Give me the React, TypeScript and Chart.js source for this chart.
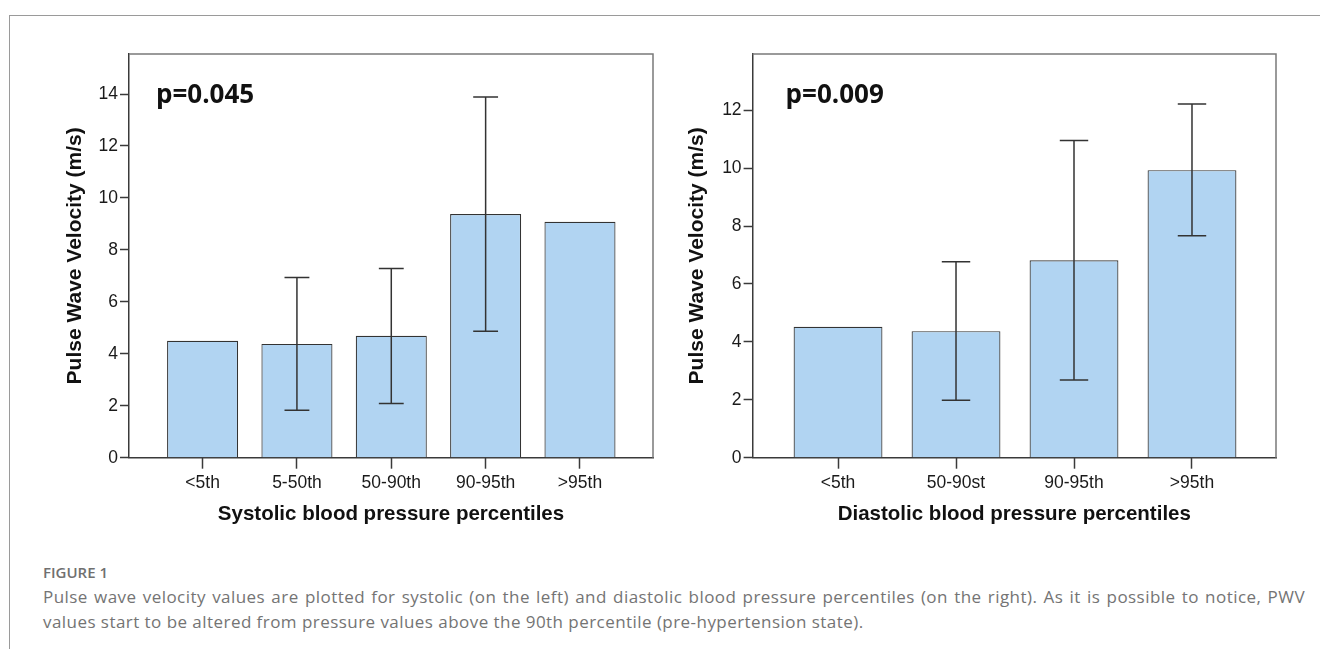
import React, { useEffect, useRef } from "react";
import Chart from "chart.js/auto";

// ---------- data ----------
const sysCategories = ["<5th", "5-50th", "50-90th", "90-95th", ">95th"];
const sysMeans = [4.5, 4.38, 4.69, 9.38, 9.08];
const sysErrLow = [null, 1.83, 2.09, 4.87, null];
const sysErrHigh = [null, 6.94, 7.28, 13.88, null];
const sysYTicks = [0, 2, 4, 6, 8, 10, 12, 14];
const sysYMax = 15.54;
const sysPText = "p=0.045";

const diaCategories = ["<5th", "50-90st", "90-95th", ">95th"];
const diaMeans = [4.52, 4.37, 6.82, 9.93];
const diaErrLow = [null, 1.98, 2.68, 7.66];
const diaErrHigh = [null, 6.77, 10.95, 12.21];
const diaYTicks = [0, 2, 4, 6, 8, 10, 12];
const diaYMax = 13.94;
const diaPText = "p=0.009";

const yTitle = "Pulse Wave Velocity (m/s)";
const sysXTitle = "Systolic blood pressure percentiles";
const diaXTitle = "Diastolic blood pressure percentiles";

const captionLabel = "FIGURE 1";
const captionLine1 =
  "Pulse wave velocity values are plotted for systolic (on the left) and diastolic blood pressure percentiles (on the right). As it is possible to notice, PWV";
const captionLine2 =
  "values start to be altered from pressure values above the 90th percentile (pre-hypertension state).";

type Panel = {
  categories: string[];
  means: number[];
  low: (number | null)[];
  high: (number | null)[];
  yTicks: number[];
  yMax: number;
  pText: string;
  xTitle: string;
  layout: {
    yWidth: number;
    xHeight: number;
    padRight: number;
    padTop: number;
    xMin: number;
    xMax: number;
    yTitlePad: number;
    xTitlePad: number;
    pDx: number;
    pY: number;
    capFrac: number;
  };
};

const CW = 660;
const CH = 560;
const X_TICK_LEN = 11;
const TICK_FONT = { family: "'Liberation Sans', Arial, sans-serif", size: 17.5 };
const X_TITLE_FONT = { family: "'Liberation Sans', Arial, sans-serif", size: 20.5, weight: "bold" };
const Y_TITLE_FONT = { family: "'Liberation Sans', Arial, sans-serif", size: 21, weight: "bold" };

function makeConfig(p: Panel): any {
  const L = p.layout;
  const decor = {
    id: "decor",
    afterDatasetsDraw(chart: any) {
      const { ctx, chartArea } = chart;
      const { left, right, top, bottom } = chartArea;
      const ys = chart.scales.y;
      const meta = chart.getDatasetMeta(0);
      ctx.save();
      // frame (top and right)
      ctx.strokeStyle = "#7a7a7a";
      ctx.lineWidth = 1.5;
      ctx.beginPath();
      ctx.moveTo(left, top);
      ctx.lineTo(right, top);
      ctx.lineTo(right, bottom);
      ctx.stroke();
      // error bars
      ctx.strokeStyle = "#333";
      ctx.lineWidth = 1.5;
      meta.data.forEach((bar: any, i: number) => {
        const lo = p.low[i];
        const hi = p.high[i];
        if (lo == null || hi == null) return;
        const x = bar.x;
        const half = (bar.width * L.capFrac) / 2;
        const yl = ys.getPixelForValue(lo);
        const yh = ys.getPixelForValue(hi);
        ctx.beginPath();
        ctx.moveTo(x, yl);
        ctx.lineTo(x, yh);
        ctx.moveTo(x - half, yl);
        ctx.lineTo(x + half, yl);
        ctx.moveTo(x - half, yh);
        ctx.lineTo(x + half, yh);
        ctx.stroke();
      });
      // p value text
      ctx.fillStyle = "#111";
      ctx.font = 'bold 26px "Open Sans"';
      ctx.textBaseline = "alphabetic";
      ctx.textAlign = "left";
      ctx.fillText(p.pText, left + L.pDx, L.pY);
      ctx.restore();
    },
  };

  return {
    type: "bar",
    data: {
      datasets: [
        {
          xAxisID: "x",
          yAxisID: "y",
          data: p.means.map((v, i) => ({ x: i, y: v })),
          backgroundColor: "#b1d4f2",
          borderColor: "#333333",
          borderWidth: 1.2,
          borderSkipped: "bottom",
          barPercentage: 0.753,
          categoryPercentage: 1,
        },
      ],
    },
    options: {
      responsive: false,
      animation: false,
      devicePixelRatio: 1,
      layout: { padding: { top: L.padTop, right: L.padRight, left: 0, bottom: 0 } },
      plugins: {
        legend: { display: false },
        tooltip: { enabled: false },
      },
      scales: {
        x: {
          type: "linear",
          position: "bottom",
          weight: 1,
          min: L.xMin,
          max: L.xMax,
          offset: false,
          afterBuildTicks: (scale: any) => {
            scale.ticks = p.categories.map((_, i) => ({ value: i }));
          },
          afterFit: (scale: any) => {
            scale.height = L.xHeight;
          },
          ticks: {
            autoSkip: false,
            maxRotation: 0,
            minRotation: 0,
            padding: 4 + X_TICK_LEN,
            color: "#1a1a1a",
            font: TICK_FONT,
            callback: (v: number) => p.categories[Math.round(v)] ?? "",
          },
          grid: {
            display: false,
            drawOnChartArea: false,
            drawTicks: false,
          },
          border: { display: true, color: "#3a3a3a", width: 1.5 },
          title: {
            display: true,
            text: p.xTitle,
            color: "#111",
            font: X_TITLE_FONT,
            padding: { top: 0, bottom: L.xTitlePad },
          },
        },
        // tick-mark axis: half-step ticks, grid lines offset onto the category centres
        xTickMarks: {
          type: "linear",
          axis: "x",
          position: "bottom",
          weight: 0,
          min: L.xMin,
          max: L.xMax,
          offset: false,
          afterBuildTicks: (scale: any) => {
            scale.ticks = [-0.5, ...p.categories.map((_, i) => i + 0.5)].map((v) => ({ value: v }));
          },
          afterFit: (scale: any) => {
            scale.height = 0;
          },
          ticks: { display: false },
          grid: {
            display: true,
            offset: true,
            drawOnChartArea: false,
            drawTicks: true,
            tickLength: X_TICK_LEN,
            tickColor: "#3a3a3a",
            tickWidth: 1.5,
          },
          border: { display: false },
          title: { display: false },
        },
        y: {
          type: "linear",
          min: 0,
          max: p.yMax,
          afterBuildTicks: (scale: any) => {
            scale.ticks = p.yTicks.map((v) => ({ value: v }));
          },
          afterFit: (scale: any) => {
            scale.width = L.yWidth;
          },
          ticks: {
            padding: 2,
            color: "#1a1a1a",
            font: TICK_FONT,
          },
          grid: {
            drawOnChartArea: false,
            drawTicks: true,
            tickLength: 9,
            tickColor: "#3a3a3a",
            tickWidth: 1.5,
          },
          border: { display: true, color: "#3a3a3a", width: 1.5 },
          title: {
            display: true,
            text: yTitle,
            color: "#111",
            font: Y_TITLE_FONT,
            padding: { top: L.yTitlePad, bottom: 0 },
          },
        },
      },
    },
    plugins: [decor],
  };
}

const sysPanel: Panel = {
  categories: sysCategories,
  means: sysMeans,
  low: sysErrLow,
  high: sysErrHigh,
  yTicks: sysYTicks,
  yMax: sysYMax,
  pText: sysPText,
  xTitle: sysXTitle,
  layout: {
    yWidth: 129,
    xHeight: CH - 457.7,
    padRight: CW - 653,
    padTop: 54,
    xMin: -0.78,
    xMax: 4.774,
    yTitlePad: 63,
    xTitlePad: 33,
    pDx: 27,
    pY: 103,
    capFrac: 0.35,
  },
};

const diaPanel: Panel = {
  categories: diaCategories,
  means: diaMeans,
  low: diaErrLow,
  high: diaErrHigh,
  yTicks: diaYTicks,
  yMax: diaYMax,
  pText: diaPText,
  xTitle: diaXTitle,
  layout: {
    yWidth: 92.6,
    xHeight: CH - 457.7,
    padRight: CW - 616,
    padTop: 54,
    xMin: -0.724,
    xMax: 3.712,
    yTitlePad: 25,
    xTitlePad: 33,
    pDx: 33,
    pY: 103,
    capFrac: 0.32,
  },
};

function ChartCanvas({ panel, left }: { panel: Panel; left: number }) {
  const ref = useRef<HTMLCanvasElement | null>(null);
  useEffect(() => {
    if (!ref.current) return;
    const chart = new Chart(ref.current, makeConfig(panel));
    return () => chart.destroy();
  }, [panel]);
  return (
    <canvas
      ref={ref}
      width={CW}
      height={CH}
      style={{ position: "absolute", left, top: 0, width: CW, height: CH }}
    />
  );
}

const captionText: React.CSSProperties = {
  position: "absolute",
  left: 43,
  fontFamily: '"Open Sans", sans-serif',
  fontSize: 17,
  letterSpacing: "0.45px",
  lineHeight: "20px",
  color: "#747474",
};

export default function App() {
  return (
    <div
      style={{
        position: "absolute",
        left: 0,
        top: 0,
        width: 1320,
        height: 649,
        overflow: "hidden",
        background: "#fff",
      }}
    >
      <div
        style={{
          position: "absolute",
          left: 9,
          top: 15,
          width: 1330,
          height: 700,
          borderTop: "1px solid #9a9a9a",
          borderLeft: "1px solid #9a9a9a",
        }}
      />
      <ChartCanvas panel={sysPanel} left={0} />
      <ChartCanvas panel={diaPanel} left={660} />
      <div
        style={{
          position: "absolute",
          left: 43,
          top: 562,
          fontFamily: '"Open Sans", sans-serif',
          fontWeight: 600,
          fontSize: 15,
          lineHeight: "20px",
          color: "#707070",
        }}
      >
        {captionLabel}
      </div>
      <div
        style={{
          ...captionText,
          top: 587,
          width: 1262,
          textAlign: "justify",
          textAlignLast: "justify",
          whiteSpace: "nowrap",
        }}
      >
        {captionLine1}
      </div>
      <div style={{ ...captionText, top: 612, whiteSpace: "nowrap" }}>{captionLine2}</div>
    </div>
  );
}
